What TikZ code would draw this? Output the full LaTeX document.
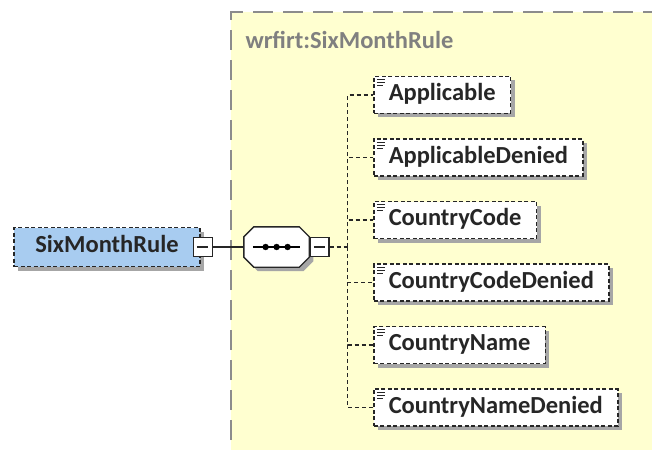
\documentclass[tikz,border=0pt]{standalone}
\usepackage{fontspec}
\setmainfont{Carlito}
\usetikzlibrary{positioning, shadows}
\definecolor{rootblue}{RGB}{168,204,240}
\definecolor{groupyellow}{RGB}{255,255,208}

\begin{document}
\begin{tikzpicture}[x=1pt, y=-1pt, node distance=24pt]
    % Styles
    \tikzstyle{element} = [rectangle, draw=black!85, dash pattern=on 4pt off 2.5pt, line width=1.5pt, fill=white, text=black!85, font=\fontsize{24.5}{24.5}\selectfont\bfseries, minimum height=37pt, inner xsep=15pt, text height=16pt, text depth=5pt, drop shadow={shadow xshift=4pt, shadow yshift=-4pt, fill=black!35, opacity=1}, path picture={\draw[solid, line width=0.8pt] ([shift={(3,3)}]path picture bounding box.north west) -- ++(8,0) ([shift={(3,6)}]path picture bounding box.north west) -- ++(8,0) ([shift={(3,9)}]path picture bounding box.north west) -- ++(6,0);}]
    \tikzstyle{root} = [element, fill=rootblue, minimum width=186pt, minimum height=39pt, path picture={}]
    \tikzstyle{toggle} = [rectangle, draw=black!85, solid, line width=1.3pt, fill=white, minimum size=19pt, inner sep=0pt, path picture={\draw[line width=1.2pt] ([xshift=4pt]path picture bounding box.west) -- ([xshift=-4pt]path picture bounding box.east);}]
    \tikzstyle{sequence} = [rectangle, minimum width=65pt, minimum height=40pt, inner sep=0pt]
    \tikzset{seq outline/.style={insert path={([xshift=10pt]#1.north west) -- ([xshift=-10pt]#1.north east) -- ([yshift=-10pt]#1.north east) -- ([yshift=10pt]#1.south east) -- ([xshift=-10pt]#1.south east) -- ([xshift=10pt]#1.south west) -- ([yshift=10pt]#1.south west) -- ([yshift=-10pt]#1.north west) -- cycle}}}
    \tikzstyle{line} = [draw, black!85, line width=1.4pt]
    \tikzstyle{tree} = [draw, black!85, line width=1.4pt, dash pattern=on 4pt off 3pt]

    \useasboundingbox (0,0) rectangle (652,449);
    \clip (0,0) rectangle (652,449);

    % Group
    \fill [groupyellow] (231,12) rectangle (670,470);
    \draw [black!45, line width=1.4pt, dash pattern=on 20pt off 10pt] (231,470) -- (231,12) -- (670,12);
    \node [anchor=west, text=black!50, font=\fontsize{24.5}{24.5}\selectfont\bfseries] (title) at (242,40) {wrfirt:SixMonthRule};

    % Nodes
    \node [root] (rule) at (107,247) {SixMonthRule};
    \node [toggle] (ruletg) at ([xshift=2pt]rule.east) {};
    \node [sequence, right=31pt of ruletg] (seq) {};
    \draw [seq outline=seq, black!85, line width=1.4pt, fill=white, drop shadow={shadow xshift=4pt, shadow yshift=-4pt, fill=black!35, opacity=1}];
    \node [toggle, anchor=west] (seqtg) at (seq.east) {};
    \coordinate [right=18pt of seqtg] (bus);
    \draw [line width=1.2pt] ([xshift=9pt]seq.west) -- ([xshift=-9pt]seq.east);
    \foreach \dx in {-11,0,11}
        \fill ([xshift=\dx pt]seq.center) circle (3.2pt);

    \node [element, anchor=west] (app) at (373,95) {Applicable};
    \node [element, below=24pt of app.south west, anchor=north west] (appden) {ApplicableDenied};
    \node [element, below=24pt of appden.south west, anchor=north west] (code) {CountryCode};
    \node [element, below=24pt of code.south west, anchor=north west] (codeden) {CountryCodeDenied};
    \node [element, below=24pt of codeden.south west, anchor=north west] (name) {CountryName};
    \node [element, below=24pt of name.south west, anchor=north west] (nameden) {CountryNameDenied};

    % Paths
    \path [line] (ruletg) -- (seq.west);
    \path [tree] (seqtg) -- (bus);
    \path [tree] (bus) |- (app);
    \path [tree] (bus) |- (appden);
    \path [tree] (bus) |- (code);
    \path [tree] (bus) |- (codeden);
    \path [tree] (bus) |- (name);
    \path [tree] (bus) |- (nameden);
\end{tikzpicture}
\end{document}
